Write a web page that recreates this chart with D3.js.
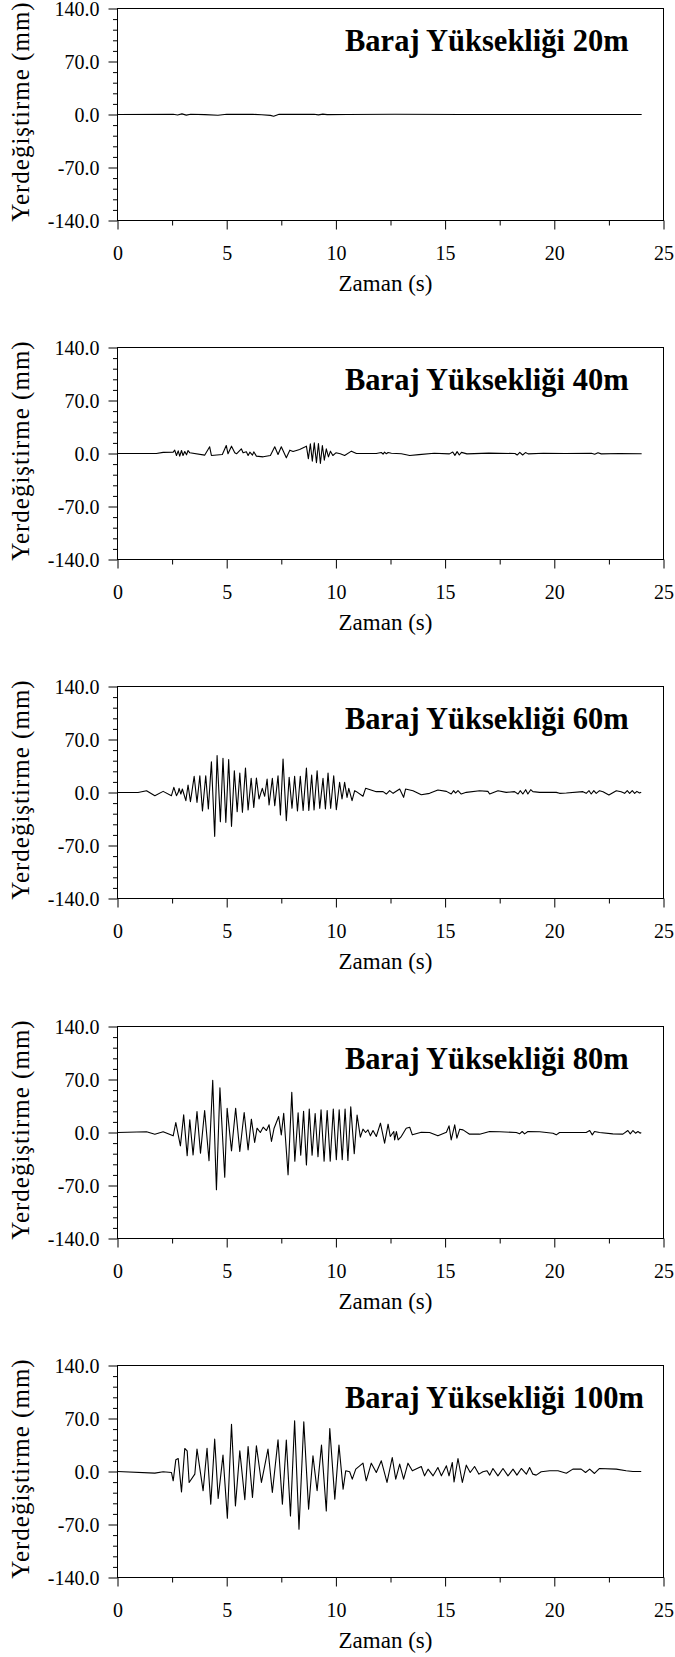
<!DOCTYPE html>
<html>
<head>
<meta charset="utf-8">
<script src="https://cdn.jsdelivr.net/npm/d3@7/dist/d3.min.js"></script>
<style>
  html, body { margin: 0; padding: 0; background: #fff; }
  svg { display: block; }
</style>
</head>
<body>
<svg id="chart" width="675" height="1657"></svg>
<script>
// Displacement time histories (time s, displacement mm) for each dam height
const h20 = [[0,0],[2.55,0.3],[2.75,-0.6],[2.95,0.8],[3.15,-0.8],[3.35,0.4],[4.0,-0.2],[4.6,-1.0],[5.0,0.4],[6.2,0.2],[6.6,-0.3],[7.0,-1.2],[7.15,-2.2],[7.4,0.4],[8.0,0.2],[9.0,0.4],[9.2,-0.5],[9.4,0.5],[9.6,-0.2],[10.5,0],[12.7,0.3],[15.8,0],[24,0]];

const h40 = [[0,0],[1.78,0],[2.09,1.5],[2.55,1.8],[2.62,4.4],[2.70,-2.6],[2.78,3.5],[2.85,-3.5],[2.93,4.0],[3.00,-2.6],[3.08,2.6],[3.16,-1.8],[3.23,4.0],[3.31,0.9],[3.99,-2.2],[4.22,8.8],[4.30,-2.6],[4.80,-1.3],[4.98,10.6],[5.06,-0.4],[5.22,9.7],[5.37,0.9],[5.45,-0.4],[5.67,6.2],[5.75,0.9],[5.90,2.2],[5.98,-2.6],[6.06,1.8],[6.18,-2.2],[6.24,2.2],[6.36,-3.5],[6.67,-4.4],[7.0,-2.6],[7.2,8.8],[7.35,-1.3],[7.5,8.8],[7.73,-5.7],[7.89,4.4],[8.04,2.6],[8.34,5.3],[8.6,8.8],[8.65,9.7],[8.74,-7],[8.83,12.8],[8.92,-10.1],[9.01,14.1],[9.11,-12.3],[9.2,13.2],[9.29,-13.2],[9.38,10.6],[9.47,-8.8],[9.56,6.2],[9.66,-4.4],[9.75,3.1],[9.86,-2.6],[10.0,0.9],[10.2,-0.4],[10.40,-2.6],[10.71,3.1],[10.94,0],[11.85,0],[12.08,1.3],[12.16,-0.9],[12.23,1.8],[12.31,-0.4],[12.39,1.3],[12.54,0.4],[13.0,-0.4],[13.38,-2.6],[13.8,-1.5],[14.5,0.3],[15.2,-0.5],[15.35,2],[15.45,-2.5],[15.55,2.5],[15.65,-2],[15.75,1.5],[16.0,-0.5],[17.0,0.5],[18.2,0],[18.3,-2],[18.42,1.5],[18.55,-2],[18.68,1.2],[18.8,-0.5],[19.5,0.3],[20.5,0],[21.7,0.3],[21.85,-1],[22.0,1],[22.15,-0.5],[23,0],[24,-0.3]];

const h60 = [[0,0],[0.94,0],[1.33,2.4],[1.71,-4.2],[2.09,1.5],[2.47,-4.2],[2.58,6.8],[2.70,-4.2],[2.78,0.2],[2.82,5.5],[2.90,-2],[2.97,4.6],[3.13,-10.8],[3.23,9.9],[3.34,-12.1],[3.51,21.4],[3.64,-13],[3.77,22.2],[3.89,-24.4],[4.04,22.2],[4.16,-21.8],[4.30,40.7],[4.45,-57.9],[4.56,48.7],[4.71,-38.5],[4.83,45.1],[4.96,-39.4],[5.09,43.4],[5.22,-44.7],[5.35,28.8],[5.48,-25.3],[5.60,25.8],[5.72,-26.2],[5.86,32.4],[5.98,-23.1],[6.12,18.7],[6.24,-19.6],[6.36,19.2],[6.48,-8.6],[6.63,5.5],[6.74,-5],[6.85,17.8],[6.94,-16.5],[7.09,18.7],[7.20,-17.4],[7.35,22.2],[7.46,-29.7],[7.58,44.3],[7.73,-37.2],[7.86,20],[7.99,-20.9],[8.11,21.4],[8.24,-24.4],[8.37,21.4],[8.5,-23.6],[8.65,32.4],[8.76,-23.6],[8.89,23.1],[9.0,-23.1],[9.14,28.8],[9.26,-20.9],[9.41,18.7],[9.52,-21.8],[9.64,25.8],[9.76,-20.9],[9.9,22.2],[10.02,-22.7],[10.17,13.4],[10.28,-8.6],[10.40,13.4],[10.51,-6.4],[10.59,5.5],[10.74,-10.8],[10.86,2.4],[10.94,1.1],[11.24,-5],[11.36,5.5],[11.85,1.1],[12.16,1.1],[12.31,-2],[12.46,2.4],[12.62,-1.1],[12.92,4.6],[13.10,-6.4],[13.19,4.6],[13.53,2.4],[13.91,-2.9],[14.29,-1.1],[14.67,3.3],[15.06,1.5],[15.28,-2],[15.39,2.4],[15.48,-0.7],[15.59,2.4],[15.74,-2],[15.97,0.2],[16.58,2.4],[16.96,1.5],[17.04,-2],[17.42,2.4],[17.8,0.2],[18.18,1.1],[18.34,-2],[18.44,2.4],[18.56,-2],[18.69,3.7],[18.79,-2],[18.92,3.7],[19.02,1.1],[19.33,0.2],[20.09,0.2],[20.24,-1.1],[20.55,-0.7],[21.31,1.1],[21.46,-1.1],[21.59,2.4],[21.69,-2],[21.81,2.4],[21.92,-1.1],[22.07,2.4],[22.23,1.1],[22.5,-3.3],[22.84,2.4],[23.06,1.1],[23.22,-1.1],[23.34,2.4],[23.45,-1.1],[23.57,2.4],[23.68,-1.1],[23.78,1.5],[23.9,-0.7],[23.98,0.2]];

const h80 = [[0,0],[1.33,0.9],[1.71,-2.2],[2.09,0.9],[2.55,-4.4],[2.67,13.2],[2.78,-3.1],[2.88,-17.6],[3.03,23.3],[3.19,-30.8],[3.31,16.7],[3.46,-29.5],[3.64,27.7],[3.80,-27.3],[3.99,29.1],[4.19,-37.4],[4.36,69],[4.53,-75.7],[4.69,59],[4.91,-59],[5.02,32.1],[5.22,-24.2],[5.41,32.1],[5.60,-25.1],[5.80,26.4],[5.98,-22.9],[6.13,17.6],[6.28,-13.2],[6.39,5.7],[6.54,0],[6.67,7],[6.82,2.6],[6.94,10.1],[7.05,-11.9],[7.17,5.7],[7.38,21.1],[7.50,-3.1],[7.61,25.5],[7.81,-55.9],[7.98,53],[8.12,-38],[8.27,26],[8.39,-30],[8.52,28],[8.65,-43],[8.78,31],[8.91,-30],[9.05,25],[9.18,-32],[9.32,30],[9.46,-38],[9.6,29],[9.74,-38],[9.88,31],[10.02,-36],[10.15,30],[10.29,-36],[10.42,31],[10.55,-37],[10.68,34],[10.84,-28],[10.97,23],[11.12,-6.2],[11.24,4.4],[11.36,0],[11.47,3.5],[11.58,-4.4],[11.70,2.6],[11.85,-5.3],[12.04,12.3],[12.23,-14.1],[12.39,11],[12.49,-5.3],[12.65,1.3],[12.69,-9.7],[12.77,1.3],[12.85,-9.7],[13.0,-5],[13.22,5.7],[13.38,7],[13.5,-3.1],[13.91,0.4],[14.29,0],[14.67,-4.4],[15.06,0.4],[15.18,8.8],[15.28,-9.7],[15.44,10.1],[15.54,-7.5],[15.67,4.4],[15.82,3.5],[16.12,-2.2],[16.58,-2.2],[17.04,1.3],[17.5,0.9],[18.26,0],[18.41,-1.8],[18.53,1.3],[18.64,-1.8],[18.79,1.3],[19.33,0.9],[19.94,-0.9],[20.09,-3.1],[20.24,0],[21.46,0],[21.62,2.6],[21.74,-3.1],[21.84,1.3],[22.07,0],[22.68,-1.8],[23.14,-2.2],[23.37,2.6],[23.48,-1.8],[23.6,2.6],[23.72,-0.9],[23.83,1.3],[23.94,-0.9],[23.98,0]];

const h100 = [[0,0],[1.71,-2.2],[2.09,-0.4],[2.47,-1.3],[2.55,-12.3],[2.67,15.4],[2.78,17.2],[2.93,-26.9],[3.08,30.4],[3.19,27.3],[3.28,-14.5],[3.54,-3.5],[3.64,29.5],[3.92,-25.5],[4.10,30.8],[4.27,-43.2],[4.45,42.7],[4.61,-35.7],[4.83,21.6],[5.03,-61.6],[5.22,62.5],[5.40,-45.4],[5.60,27.3],[5.83,-37.4],[5.98,33],[6.18,-34.3],[6.36,33.9],[6.59,-14.5],[6.74,7.5],[6.89,29.5],[7.09,-27.7],[7.35,41.8],[7.55,-43.2],[7.73,41.4],[7.92,-58.6],[8.11,66.9],[8.31,-76.2],[8.53,65.6],[8.75,-49.8],[8.95,20.7],[9.14,-25.5],[9.34,34.8],[9.56,-52.2],[9.72,56.8],[9.95,-36.5],[10.14,34.8],[10.33,-23.3],[10.45,0.9],[10.63,-0.4],[10.75,-10.1],[10.91,3.1],[11.24,11],[11.39,-12.3],[11.62,11],[11.85,-1.3],[12.08,14.1],[12.34,-14.5],[12.58,18.5],[12.74,-10.1],[12.92,9.7],[13.1,-10.1],[13.3,11],[13.5,0.9],[13.91,6.6],[14.06,-5.7],[14.22,3.1],[14.45,-5.7],[14.67,5.3],[14.83,-5.7],[15.06,7.5],[15.18,-5.7],[15.33,11.9],[15.41,-13.7],[15.59,17.2],[15.79,-14.5],[15.97,8.4],[16.15,-1.3],[16.35,6.6],[16.55,-3.5],[16.73,-0.4],[16.92,0.9],[17.04,-4.8],[17.19,4],[17.42,-5.7],[17.65,4],[17.88,-5.7],[18.11,3.1],[18.29,-4.8],[18.49,4],[18.72,-3.5],[18.87,5.3],[19.02,-3.5],[19.17,-4.8],[19.4,-0.4],[19.79,0.9],[20.17,0.9],[20.55,-2.2],[20.85,3.1],[21.23,3.1],[21.43,-1.3],[21.62,3.1],[21.84,-2.6],[22.07,4],[22.84,3.1],[23.29,0.9],[23.6,0],[23.98,0]];

const series = [h20, h40, h60, h80, h100];
const panelTitles = ["Baraj Yüksekliği 20m", "Baraj Yüksekliği 40m", "Baraj Yüksekliği 60m", "Baraj Yüksekliği 80m", "Baraj Yüksekliği 100m"];
const yTicks = [-140, -70, 0, 70, 140];
const yMinorTicks = [-126, -112, -98, -84, -56, -42, -28, -14, 14, 28, 42, 56, 84, 98, 112, 126];
const xTicks = [0, 5, 10, 15, 20, 25];
const xMinorTicks = [2.5, 7.5, 12.5, 17.5, 22.5];
const xTitle = "Zaman (s)";
const yTitle = "Yerdeğiştirme (mm)";

const FONT = "'Liberation Serif', 'Times New Roman', Times, serif";

// Layout
const plotLeft = 117.5, plotRight = 663.5, plotH = 212;
const panelTops = [8.5, 347.5, 686.5, 1026.5, 1365.5];

const svg = d3.select("#chart").attr("font-family", FONT);
svg.append("rect").attr("width", 675).attr("height", 1657).attr("fill", "#fff");

const x = d3.scaleLinear().domain([0, 25]).range([plotLeft, plotRight]);
const y = d3.scaleLinear().domain([-140, 140]).range([plotH, 0]);
const fmt = d => d.toFixed(1);

series.forEach((data, i) => {
  const g = svg.append("g").attr("transform", `translate(0,${panelTops[i]})`);

  // Minor ticks
  g.append("g").attr("transform", `translate(${plotLeft},0)`)
    .call(d3.axisLeft(y).tickValues(yMinorTicks).tickSize(4.5).tickSizeOuter(0).tickFormat(""))
    .call(a => a.select(".domain").remove());
  g.append("g").attr("transform", `translate(0,${plotH})`)
    .call(d3.axisBottom(x).tickValues(xMinorTicks).tickSize(5).tickSizeOuter(0).tickFormat(""))
    .call(a => a.select(".domain").remove());

  // Major ticks with labels
  g.append("g").attr("transform", `translate(${plotLeft},0)`)
    .call(d3.axisLeft(y).tickValues(yTicks).tickSize(9).tickSizeOuter(0).tickPadding(9).tickFormat(fmt))
    .attr("font-family", FONT).attr("font-size", 20)
    .call(a => a.select(".domain").remove())
    .call(a => a.selectAll("text").attr("fill", "#000").attr("dy", "0.34em"));
  g.append("g").attr("transform", `translate(0,${plotH})`)
    .call(d3.axisBottom(x).tickValues(xTicks).tickSize(9).tickSizeOuter(0).tickFormat(d3.format("d")))
    .attr("font-family", FONT).attr("font-size", 20)
    .call(a => a.select(".domain").remove())
    .call(a => a.selectAll("text").attr("fill", "#000").attr("y", 39).attr("dy", 0));

  g.selectAll(".tick line").attr("stroke", "#000");

  // Plot frame
  g.append("rect")
    .attr("x", plotLeft).attr("y", 0)
    .attr("width", plotRight - plotLeft).attr("height", plotH)
    .attr("fill", "none").attr("stroke", "#000").attr("stroke-width", 1);

  // Displacement trace
  const line = d3.line().x(d => x(d[0])).y(d => y(d[1]));
  g.append("path").datum(data)
    .attr("d", line)
    .attr("fill", "none").attr("stroke", "#000").attr("stroke-width", 1.1)
    .attr("stroke-linejoin", "round");

  // Panel title
  g.append("text").attr("x", 345).attr("y", 42)
    .attr("font-family", FONT).attr("font-size", 30.5).attr("font-weight", "bold")
    .text(panelTitles[i]);

  // Axis titles
  g.append("text").attr("x", (plotLeft + plotRight) / 2 - 5).attr("y", 282)
    .attr("font-family", FONT).attr("text-anchor", "middle").attr("font-size", 23).text(xTitle);
  g.append("text")
    .attr("transform", `translate(29,${plotH / 2 - 3}) rotate(-90)`)
    .attr("font-family", FONT).attr("text-anchor", "middle").attr("font-size", 25)
    .style("letter-spacing", "1px")
    .text(yTitle);
});
</script>
</body>
</html>
